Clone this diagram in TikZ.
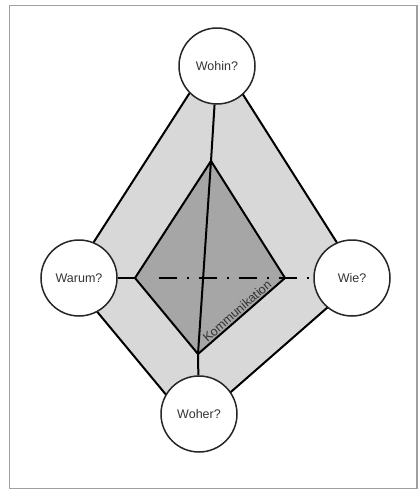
\documentclass[tikz,border=0pt]{standalone}
\usepackage{fontspec}
\setmainfont{Liberation Sans}
\usepackage{tikz}
\usetikzlibrary{calc,positioning}
\definecolor{outergray}{HTML}{D8D8D8}
\definecolor{innergray}{HTML}{A6A6A6}
\definecolor{framegray}{HTML}{A0A0A0}
\definecolor{textgray}{HTML}{333333}
\tikzset{%
	question/.style  = {draw=black!85, fill=white, circle, line width=1.5pt, minimum size=76pt, inner sep=0pt, text=textgray, font=\fontsize{12.5}{15}\selectfont},
	outerface/.style = {draw, fill=outergray, line width=2pt},
	innerface/.style = {draw, fill=innergray, line width=2pt},
	edge/.style      = {line width=2pt},
	dashdot/.style   = {line width=2pt, dash pattern=on 18pt off 10pt on 2pt off 10pt},
	kommtext/.style  = {text=textgray, inner sep=1pt, font=\fontsize{12.5}{15}\selectfont},
}
\begin{document}
\begin{tikzpicture}[x=1pt,y=-1pt]
	\useasboundingbox (0,0) rectangle (420,490);
	\draw[framegray, line width=1.5pt] (9.5,5.5) rectangle (417,488.5);
	\coordinate (ot) at (216,52);
	\coordinate (ol) at (70,279);
	\coordinate (or) at (360,279);
	\coordinate (ob) at (192,426);
	\coordinate (it) at (211,161);
	\coordinate (il) at (135,278);
	\coordinate (ir) at (285,278);
	\coordinate (ib) at (198,354);
	\coordinate (dstart) at (159,278);
	\draw[outerface] (ot) -- (or) -- (ob) -- (ol) -- cycle;
	\draw[innerface] (it) -- (ir) -- (ib) -- (il) -- cycle;
	\path (ib) -- (ir) node[midway, sloped, above=1pt, kommtext] {Kommunikation};
	\node[question] (wohin) at (217,66) {Wohin?};
	\node[question] (warum) at (79,278) {Warum?};
	\node[question] (wie) at (352,278) {Wie?};
	\node[question] (woher) at (199,414) {Woher?};
	\draw[edge] (warum) -- (il);
	\draw[dashdot] (dstart) -- (wie);
	\draw[edge] (wohin) -- (it) -- (ib) -- (woher);
\end{tikzpicture}
\end{document}
